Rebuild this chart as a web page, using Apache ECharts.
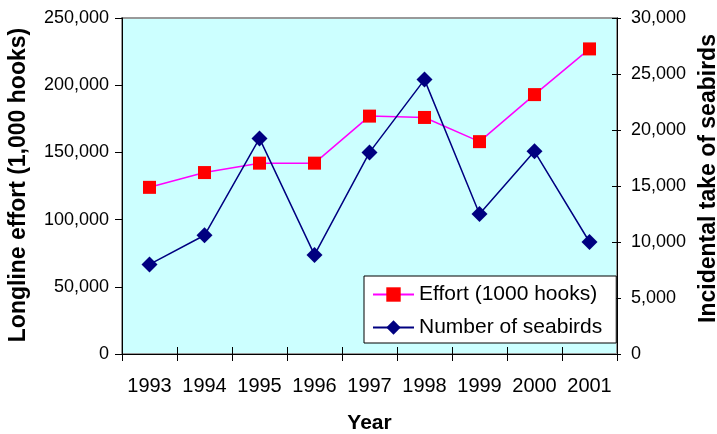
<!DOCTYPE html>
<html>
<head>
<meta charset="utf-8">
<script src="https://cdn.jsdelivr.net/npm/echarts@6/dist/echarts.min.js"></script>
<style>
  html, body { margin: 0; padding: 0; background: #ffffff; }
  #chart { width: 717px; height: 434px; }
</style>
</head>
<body>
<div id="chart"></div>
<script>
// Longline fishing effort and incidental seabird take, 1993-2001
const years = ['1993', '1994', '1995', '1996', '1997', '1998', '1999', '2000', '2001'];
const effortHooks = [124000, 135000, 142000, 142000, 177000, 176000, 158000, 193000, 227000];
const seabirdTake = [8000, 10600, 19250, 8850, 18000, 24500, 12500, 18100, 10000];
const effortTicks = [0, 250000, 50000];   // min, max, step
const seabirdTicks = [0, 30000, 5000];    // min, max, step

const FONT = '"Liberation Sans", Arial, sans-serif';
const thousands = v => String(v).replace(/\B(?=(\d{3})+(?!\d))/g, ',');

const chart = echarts.init(document.getElementById('chart'), null, { renderer: 'canvas' });

chart.setOption({
  animation: false,
  textStyle: { fontFamily: FONT, color: '#000' },
  grid: {
    left: 122, right: 100, top: 18, bottom: 80,
    outerBoundsMode: 'none',
    containLabel: false,
    show: true,
    backgroundColor: '#CCFFFF',
    borderColor: '#999999',
    borderWidth: 2
  },
  legend: {
    orient: 'vertical',
    left: 364,
    top: 276,
    padding: [8, 14, 5, 8],
    itemGap: 12,
    itemWidth: 41,
    itemHeight: 18,
    backgroundColor: '#ffffff',
    borderColor: '#000000',
    borderWidth: 1,
    borderRadius: 0,
    textStyle: { fontFamily: FONT, fontSize: 21, color: '#000' },
    data: ['Effort (1000 hooks)', 'Number of seabirds']
  },
  xAxis: [
    {
      type: 'category',
      data: years,
      position: 'bottom',
      boundaryGap: true,
      name: 'Year',
      nameLocation: 'middle',
      nameGap: 59,
      nameTextStyle: { fontFamily: FONT, fontSize: 21, fontWeight: 'bold', color: '#000' },
      axisLine: { show: true, lineStyle: { color: '#000', width: 1 } },
      axisTick: { show: true, inside: false, length: 7, interval: 0, lineStyle: { color: '#000' } },
      axisLabel: { fontFamily: FONT, fontSize: 20, color: '#000', margin: 22, interval: 0 },
      splitLine: { show: false }
    },
    {
      // inner half of the crossing tick marks
      type: 'category',
      data: years,
      position: 'bottom',
      boundaryGap: true,
      axisLine: { show: false },
      axisTick: { show: true, inside: true, length: 7, interval: 0, lineStyle: { color: '#000' } },
      axisLabel: { show: false },
      splitLine: { show: false }
    }
  ],
  yAxis: [
    {
      type: 'value',
      position: 'left',
      min: effortTicks[0], max: effortTicks[1], interval: effortTicks[2],
      name: 'Longline effort (1,000 hooks)',
      nameLocation: 'middle',
      nameRotate: 90,
      nameGap: 92,
      nameTextStyle: { fontFamily: FONT, fontSize: 23, fontWeight: 'bold', color: '#000', padding: [0, 0, 0, 2] },
      axisLine: { show: true, lineStyle: { color: '#000', width: 1 } },
      axisTick: { show: true, inside: false, length: 7, lineStyle: { color: '#000' } },
      axisLabel: { fontFamily: FONT, fontSize: 18, color: '#000', margin: 13, formatter: thousands },
      splitLine: { show: false }
    },
    {
      type: 'value',
      position: 'right',
      min: seabirdTicks[0], max: seabirdTicks[1], interval: seabirdTicks[2],
      name: 'Incidental take of seabirds',
      nameLocation: 'middle',
      nameRotate: 90,
      nameGap: 80,
      nameTextStyle: { fontFamily: FONT, fontSize: 23, fontWeight: 'bold', color: '#000', padding: [0, 0, 0, 15] },
      axisLine: { show: true, lineStyle: { color: '#000', width: 1 } },
      axisTick: { show: true, inside: false, length: 4, lineStyle: { color: '#000' } },
      axisLabel: { fontFamily: FONT, fontSize: 18, color: '#000', margin: 14, formatter: thousands },
      splitLine: { show: false }
    },
    {
      // inner half of the right axis crossing ticks
      type: 'value',
      position: 'right',
      min: seabirdTicks[0], max: seabirdTicks[1], interval: seabirdTicks[2],
      axisLine: { show: false },
      axisTick: { show: true, inside: true, length: 5, lineStyle: { color: '#000' } },
      axisLabel: { show: false },
      splitLine: { show: false }
    }
  ],
  series: [
    {
      name: 'Effort (1000 hooks)',
      type: 'line',
      xAxisIndex: 0,
      yAxisIndex: 0,
      data: effortHooks,
      symbol: 'rect',
      symbolSize: 13,
      itemStyle: { color: '#FF0000', borderWidth: 0 },
      lineStyle: { color: '#FF00FF', width: 1.5 },
      z: 3
    },
    {
      name: 'Number of seabirds',
      type: 'line',
      xAxisIndex: 0,
      yAxisIndex: 1,
      data: seabirdTake,
      symbol: 'diamond',
      symbolSize: 16,
      itemStyle: { color: '#000080', borderWidth: 0 },
      lineStyle: { color: '#000080', width: 1.5 },
      z: 4
    }
  ]
});
</script>
</body>
</html>
